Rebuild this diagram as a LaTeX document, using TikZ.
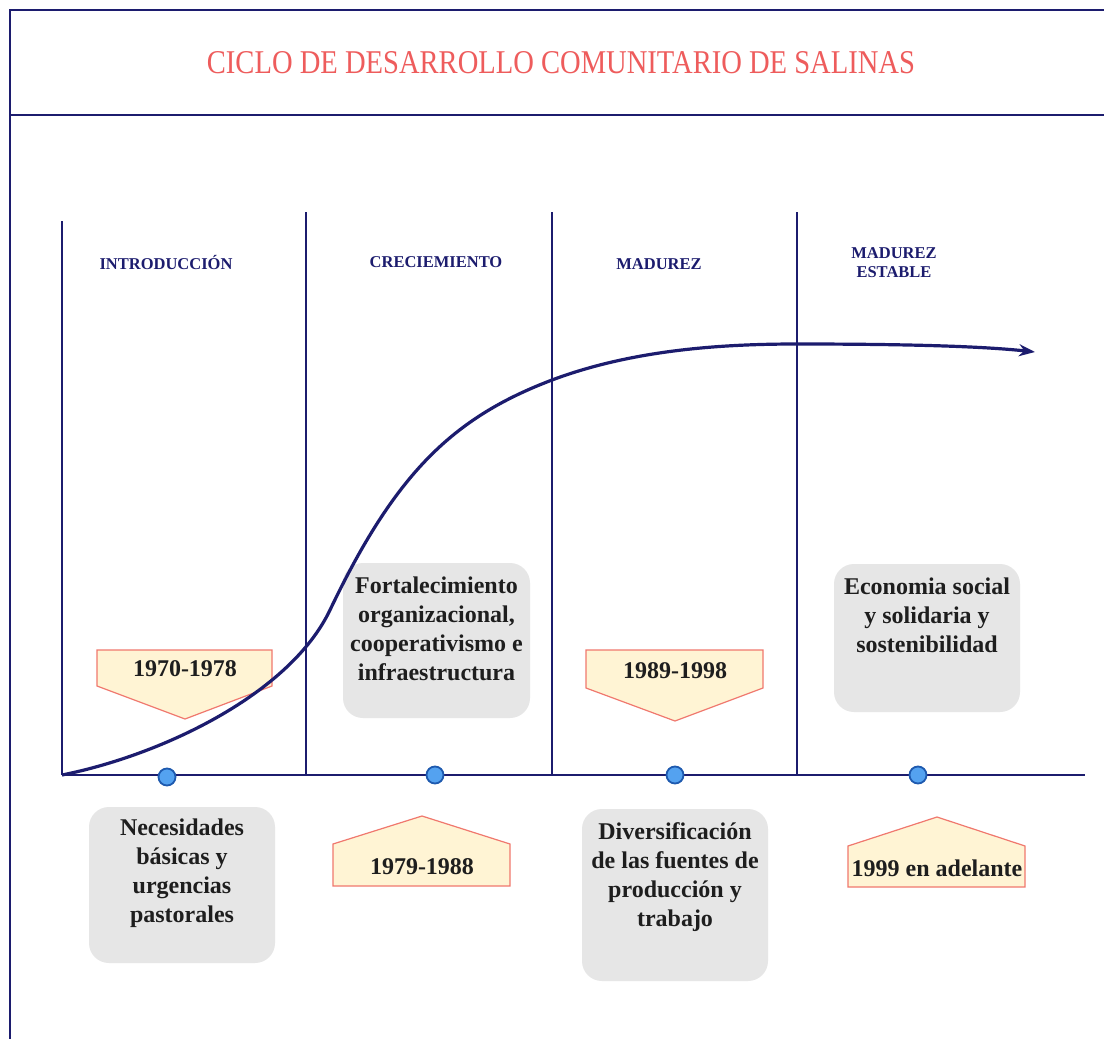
\documentclass[tikz,border=0pt]{standalone}
\usepackage{fontspec}
\usepackage{graphicx}
\setmainfont{Liberation Serif}
\usetikzlibrary{arrows.meta}
\definecolor{navy}{RGB}{28,28,110}
\definecolor{titlered}{RGB}{238,92,92}
\definecolor{boxgray}{RGB}{230,230,230}
\definecolor{penfill}{RGB}{255,244,212}
\definecolor{penline}{RGB}{240,120,110}
\definecolor{dotfill}{RGB}{84,162,240}
\definecolor{dotline}{RGB}{30,90,175}
\definecolor{txt}{RGB}{30,30,30}
\tikzset{
  frameline/.style={navy, line width=2.5pt},
  phaseline/.style={navy, line width=2.2pt},
  header/.style={font=\fontsize{16.5}{19}\selectfont\bfseries, text=navy, inner sep=0pt, align=center},
  graybox/.style={fill=boxgray, rounded corners=20pt, draw=none},
  boxtext/.style={font=\fontsize{24}{29}\selectfont\bfseries, text=txt, inner sep=0pt, align=center},
  pentagon/.style={fill=penfill, draw=penline, line width=1.2pt, line join=miter},
  datetext/.style={font=\fontsize{24}{29}\selectfont\bfseries, text=txt, inner sep=0pt},
  dot/.style={circle, fill=dotfill, draw=dotline, line width=1.8pt, minimum size=17pt, inner sep=0pt},
}
\begin{document}
\begin{tikzpicture}[x=1pt,y=-1pt]
\useasboundingbox (0,0) rectangle (1104,1039);
\fill[white] (0,0) rectangle (1104,1039);
% frame
\draw[frameline] (1104,10) -- (10,10) -- (10,1039);
\draw[frameline] (10,115) -- (1104,115);
\node[inner sep=0pt] (title) at (561,63) {\resizebox{708pt}{22pt}{\textcolor{titlered}{CICLO DE DESARROLLO COMUNITARIO DE SALINAS}}};
% phase lines
\coordinate (o) at (62,775);
\coordinate (v1t) at (62,221);
\coordinate (v2t) at (306,212);
\coordinate (v2b) at (306,775);
\coordinate (v3t) at (552,212);
\coordinate (v3b) at (552,775);
\coordinate (v4t) at (797,212);
\coordinate (v4b) at (797,775);
\coordinate (axend) at (1085,775);
\draw[phaseline] (v1t) -- (o);
\draw[phaseline] (v2t) -- (v2b);
\draw[phaseline] (v3t) -- (v3b);
\draw[phaseline] (v4t) -- (v4b);
\draw[phaseline] (o) -- (axend);
% headers
\node[header] (h1) at (166,262) {INTRODUCCIÓN};
\node[header] (h2) at (436,262) {CRECIEMIENTO};
\node[header] (h3) at (659,264) {MADUREZ};
\node[header] (h4a) at (894,253) {MADUREZ};
\node[header] (h4b) at (894,272) {ESTABLE};
% gray boxes
\fill[graybox] (343,563) rectangle (530,718);
\fill[graybox] (834,564) rectangle (1020,712);
\fill[graybox] (89,807) rectangle (275,963);
\fill[graybox] (582,809) rectangle (768,981);
\node[boxtext] (b2) at (436.5,629) {Fortalecimiento\\organizacional,\\cooperativismo e\\infraestructura};
\node[boxtext] (b4) at (927,615) {Economia social\\y solidaria y\\sostenibilidad};
\node[boxtext] (b1) at (182,873) {Necesidades\\básicas y\\urgencias\\pastorales};
\node[boxtext] (b3) at (675,877) {Diversificación\\de las fuentes de\\producción y\\trabajo};
% pentagons
\draw[pentagon] (97,650) -- (272,650) -- (272,686) -- (185,719) -- (97,686) -- cycle;
\draw[pentagon] (586,650) -- (763,650) -- (763,688) -- (675,721) -- (586,688) -- cycle;
\draw[pentagon] (333,886) -- (510,886) -- (510,844) -- (422,816) -- (333,844) -- cycle;
\draw[pentagon] (848,887) -- (1025,887) -- (1025,846) -- (937,817) -- (848,846) -- cycle;
\node[datetext] (d1) at (185,669) {1970-1978};
\node[datetext] (d3) at (675,671) {1989-1998};
\node[datetext] (d2) at (422,867) {1979-1988};
\node[datetext] (d4) at (937,868) {1999 en adelante};
% curve
\coordinate (c1) at (330,610);
\coordinate (c2) at (552,380);
\coordinate (c3) at (797,344);
\coordinate (cend) at (1035,352);
\draw[navy, line width=3.2pt, -{Stealth[length=16pt,width=12pt]}]
  (o) .. controls (162,755) and (290,694) .. (c1)
      .. controls (395,474) and (452,418) .. (c2)
      .. controls (632,350) and (720,344) .. (c3)
      .. controls (900,344) and (980,346) .. (cend);
% dots
\node[dot] (p1) at (167,777) {};
\node[dot] (p2) at (435,775) {};
\node[dot] (p3) at (675,775) {};
\node[dot] (p4) at (918,775) {};
\end{tikzpicture}
\end{document}
